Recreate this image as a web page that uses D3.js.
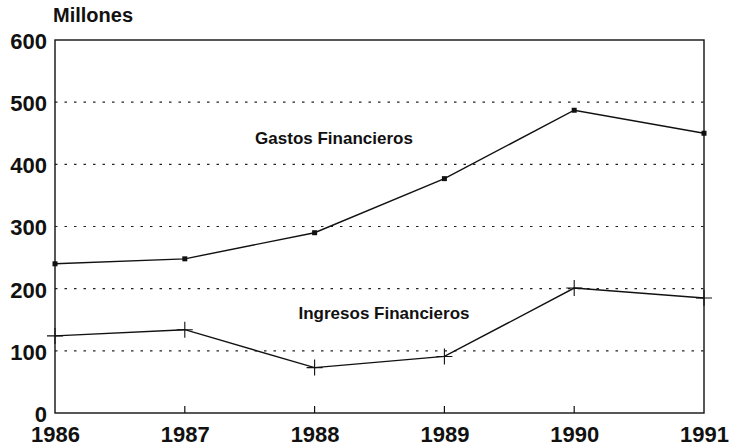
<!DOCTYPE html>
<html>
<head>
<meta charset="utf-8">
<script src="https://cdn.jsdelivr.net/npm/d3@7"></script>
<style>
  body { margin: 0; background: #fff; }
  svg text { font-family: "Liberation Sans", Arial, Helvetica, sans-serif; font-weight: bold; fill: #111; }
</style>
</head>
<body>
<div id="chart"></div>
<script>
// data
const years = [1986, 1987, 1988, 1989, 1990, 1991];
const gastos = [240, 248, 290, 377, 487, 450];
const ingresos = [124, 134, 73, 91, 201, 185];
const yTicks = [0, 100, 200, 300, 400, 500, 600];
const gridValues = [100, 200, 300, 400, 500];

const width = 731;
const height = 446;
const plotLeft = 55, plotRight = 704, plotTop = 40, plotBottom = 413;

const svg = d3.select("#chart")
    .append("svg")
    .attr("width", width)
    .attr("height", height);

const x = d3.scaleLinear().domain([1986, 1991]).range([plotLeft, plotRight]);
const y = d3.scaleLinear().domain([0, 600]).range([plotBottom, plotTop]);

// dotted gridlines
svg.append("g")
    .selectAll("line")
    .data(gridValues)
    .enter().append("line")
    .attr("x1", plotLeft)
    .attr("x2", plotRight)
    .attr("y1", d => y(d))
    .attr("y2", d => y(d))
    .attr("stroke", "#222")
    .attr("stroke-width", 1.1)
    .attr("stroke-dasharray", "2.5,7");

// frame
svg.append("rect")
    .attr("x", plotLeft)
    .attr("y", plotTop)
    .attr("width", plotRight - plotLeft)
    .attr("height", plotBottom - plotTop)
    .attr("fill", "none")
    .attr("stroke", "#111")
    .attr("stroke-width", 1.4);

// y axis labels
const yAxis = svg.append("g")
    .attr("transform", `translate(${plotLeft},0)`)
    .call(d3.axisLeft(y).tickValues(yTicks).tickSize(0).tickPadding(8));
yAxis.select(".domain").remove();
yAxis.selectAll("text")
    .style("font-size", "22px")
    .attr("dy", "0.38em");

// x axis labels and small inward ticks
const xAxis = svg.append("g")
    .attr("transform", `translate(0,${plotBottom})`)
    .call(d3.axisBottom(x).tickValues(years).tickFormat(d3.format("d")).tickSize(0));
xAxis.select(".domain").remove();
xAxis.selectAll("text")
    .style("font-size", "22px")
    .attr("y", 29)
    .attr("dy", null);

svg.append("g")
    .selectAll("line")
    .data(years.slice(1, -1))
    .enter().append("line")
    .attr("x1", d => x(d))
    .attr("x2", d => x(d))
    .attr("y1", plotBottom)
    .attr("y2", plotBottom - 7)
    .attr("stroke", "#111")
    .attr("stroke-width", 1.2);

const line = d3.line()
    .x((d, i) => x(years[i]))
    .y(d => y(d));

// Gastos Financieros
svg.append("path")
    .datum(gastos)
    .attr("d", line)
    .attr("fill", "none")
    .attr("stroke", "#111")
    .attr("stroke-width", 1.4);

svg.append("g")
    .selectAll("rect")
    .data(gastos)
    .enter().append("rect")
    .attr("x", (d, i) => x(years[i]) - 2.5)
    .attr("y", d => y(d) - 2.5)
    .attr("width", 5)
    .attr("height", 5)
    .attr("fill", "#111");

// Ingresos Financieros
svg.append("path")
    .datum(ingresos)
    .attr("d", line)
    .attr("fill", "none")
    .attr("stroke", "#111")
    .attr("stroke-width", 1.4);

svg.append("g")
    .selectAll("path")
    .data(ingresos)
    .enter().append("path")
    .attr("d", (d, i) => {
        const cx = x(years[i]), cy = y(d);
        return `M${cx - 8},${cy}H${cx + 8}M${cx},${cy - 8}V${cy + 8}`;
    })
    .attr("stroke", "#111")
    .attr("stroke-width", 1.1);

// labels
svg.append("text")
    .attr("x", 53)
    .attr("y", 22)
    .style("font-size", "20px")
    .text("Millones");

svg.append("text")
    .attr("x", 334)
    .attr("y", 144)
    .attr("text-anchor", "middle")
    .style("font-size", "17px")
    .text("Gastos Financieros");

svg.append("text")
    .attr("x", 384)
    .attr("y", 319)
    .attr("text-anchor", "middle")
    .style("font-size", "17px")
    .text("Ingresos Financieros");
</script>
</body>
</html>
